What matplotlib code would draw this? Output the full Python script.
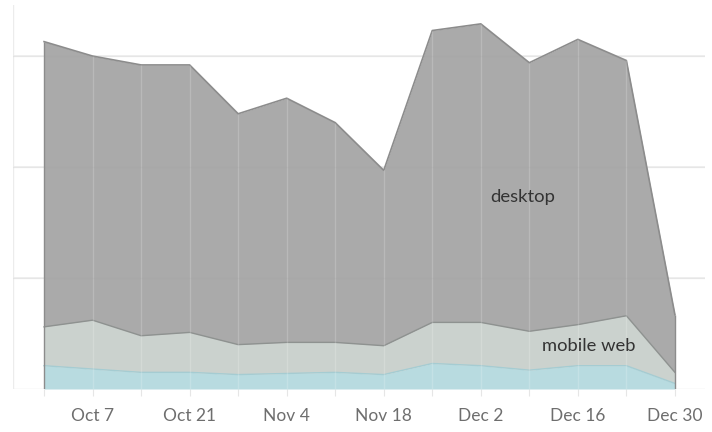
import matplotlib
matplotlib.use("Agg")
import matplotlib.pyplot as plt
import numpy as np

weeks = ["Sep 30", "Oct 7", "Oct 14", "Oct 21", "Oct 28", "Nov 4", "Nov 11",
         "Nov 18", "Nov 25", "Dec 2", "Dec 9", "Dec 16", "Dec 23", "Dec 30"]
app = [0.21, 0.18, 0.15, 0.15, 0.13, 0.14, 0.15, 0.13, 0.23, 0.21, 0.17, 0.21, 0.21, 0.05]
mobile_web = [0.35, 0.44, 0.33, 0.36, 0.27, 0.28, 0.27, 0.26, 0.37, 0.39, 0.35, 0.37, 0.45, 0.10]
desktop = [2.57, 2.38, 2.44, 2.41, 2.08, 2.20, 1.98, 1.58, 2.63, 2.69, 2.42, 2.57, 2.30, 0.52]
tick_labels = ["Oct 7", "Oct 21", "Nov 4", "Nov 18", "Dec 2", "Dec 16", "Dec 30"]

plt.rcParams['font.family'] = ['Lato', 'DejaVu Sans']

fig = plt.figure(figsize=(7.12, 4.32), dpi=100)
ax = fig.add_axes([13/712, 1-389/432, (705-13)/712, (389-5)/432])

x = np.arange(len(weeks))
a = np.array(app)
m = a + np.array(mobile_web)
d = m + np.array(desktop)

for yv in [1, 2, 3]:
    ax.axhline(yv, color='#efefef', lw=1.2, zorder=0)

ax.fill_between(x, 0, a, color='#b8dbe0', lw=0, zorder=2)
ax.fill_between(x, a, m, color='#cbd2ce', lw=0, zorder=2)
ax.fill_between(x, m, d, color='#aaaaaa', lw=0, zorder=2)
ax.plot(x, a, color='#a5ccd2', lw=1, zorder=3)
ax.plot(x, m, color='#8e9290', lw=1, zorder=3)
ax.plot(x, d, color='#8c8c8c', lw=1.2, zorder=3)
ax.vlines(x[0], 0, d[0], color='#8c8c8c', lw=1, zorder=3)
ax.vlines(x[-1], 0, d[-1], color='#8c8c8c', lw=1, zorder=3)

for i in range(1, len(x) - 1):
    ax.vlines(x[i], 0, d[i], color='white', alpha=0.18, lw=1, zorder=4)
for yv in [1, 2, 3]:
    ax.axhline(yv, color='#9a9a9a', lw=1, alpha=0.12, zorder=4)

ax.axhline(0, color='#e6e6e6', lw=1, zorder=1)
ax.axvline(-0.64, color='#ececec', lw=1, zorder=1)

ax.set_xlim(-0.64, 13.62)
ax.set_ylim(0, 3.46)
ax.set_xticks(x)
ax.set_xticklabels([w if w in tick_labels else "" for w in weeks])
ax.tick_params(axis='x', length=5, color='#e6e6e6', labelcolor='#6e6e6e',
               labelsize=12.5, pad=9)
ax.set_yticks([])
for s in ax.spines.values():
    s.set_visible(False)

ax.text(9.86, 1.73, "desktop", fontsize=13.3, color='#333333', ha='center', va='center', zorder=5)
ax.text(11.22, 0.39, "mobile web", fontsize=13.2, color='#333333', ha='center', va='center', zorder=5)

fig.savefig("out.png", dpi=100)
